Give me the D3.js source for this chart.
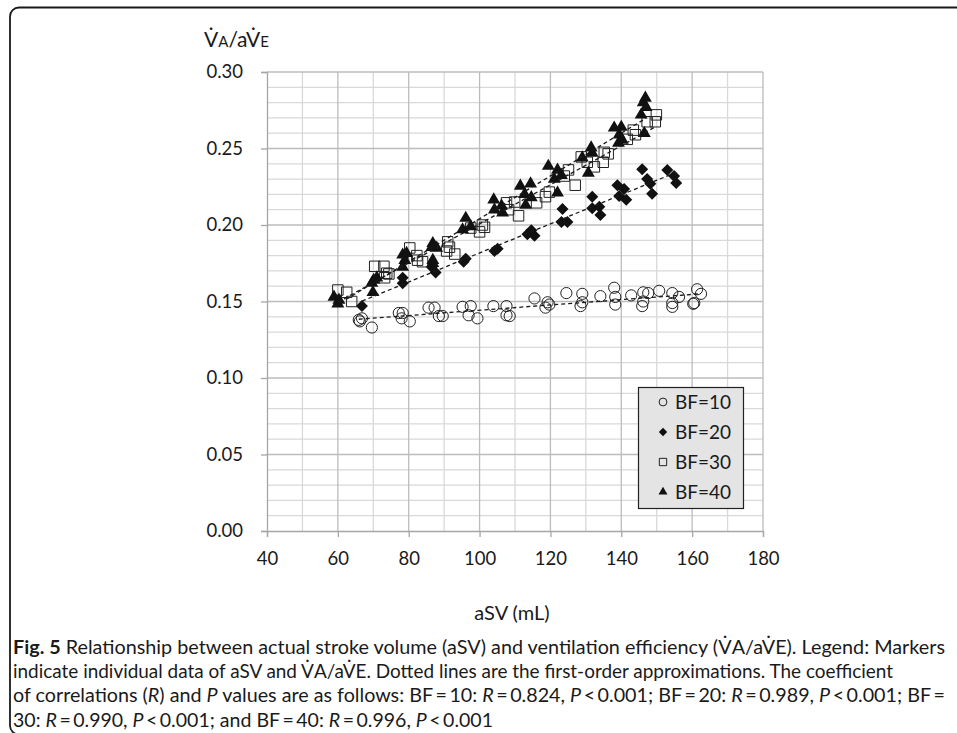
<!DOCTYPE html>
<html><head><meta charset="utf-8">
<script src="https://cdn.jsdelivr.net/npm/d3@7"></script>
<style>body{margin:0;background:#fff}svg{display:block}</style>
</head><body>
<script>
const bf10 = [[65.9,0.138],[66.2,0.137],[66.8,0.139],[69.6,0.133],[77.2,0.1425],[78.3,0.1425],[78.0,0.139],[80.3,0.137],[85.6,0.146],[87.3,0.146],[88.5,0.1405],[89.6,0.1405],[95.2,0.1465],[97.5,0.147],[96.9,0.141],[99.4,0.139],[103.9,0.147],[107.6,0.147],[107.6,0.141],[108.5,0.1405],[115.5,0.152],[119.2,0.1495],[118.6,0.146],[119.7,0.148],[124.5,0.1555],[129.0,0.155],[129.0,0.1495],[128.5,0.147],[134.1,0.1535],[138.0,0.159],[138.3,0.153],[138.3,0.148],[142.8,0.154],[146.2,0.156],[147.6,0.1555],[146.2,0.150],[145.9,0.147],[150.7,0.157],[154.4,0.1555],[156.3,0.153],[154.4,0.149],[154.4,0.1465],[161.4,0.158],[162.5,0.155],[160.6,0.149],[160.3,0.1485]];
const bf20 = [[66.8,0.147],[78.3,0.162],[78.3,0.1655],[86.5,0.1725],[87.6,0.169],[96.1,0.178],[95.5,0.176],[104.2,0.183],[105.1,0.1845],[113.5,0.194],[114.6,0.1965],[115.5,0.193],[123.4,0.2105],[123.1,0.202],[124.8,0.202],[131.8,0.2185],[131.8,0.211],[133.8,0.212],[134.1,0.2065],[138.9,0.226],[140.8,0.2235],[139.4,0.219],[141.4,0.2165],[145.9,0.2365],[147.3,0.230],[148.2,0.227],[148.7,0.2205],[153.0,0.236],[154.9,0.232],[155.5,0.2275]];
const bf30 = [[60.0,0.1575],[62.5,0.156],[63.9,0.150],[70.4,0.173],[73.0,0.173],[73.8,0.1685],[73.2,0.1655],[74.4,0.168],[80.3,0.185],[82.3,0.180],[82.5,0.177],[83.9,0.176],[91.0,0.189],[91.5,0.1855],[90.7,0.183],[93.0,0.181],[100.0,0.1955],[100.8,0.200],[101.4,0.1985],[97.5,0.198],[107.6,0.2145],[109.9,0.215],[108.2,0.210],[111.0,0.206],[116.1,0.2145],[118.6,0.2185],[119.7,0.2215],[125.1,0.236],[123.9,0.232],[127.0,0.226],[128.7,0.2445],[130.4,0.241],[132.4,0.238],[134.9,0.241],[135.2,0.2475],[136.3,0.2465],[141.7,0.256],[143.4,0.262],[144.0,0.259],[147.3,0.2675],[149.6,0.2675],[149.9,0.272]];
const bf40 = [[58.9,0.153],[60.0,0.1485],[60.3,0.151],[69.6,0.162],[69.9,0.156],[70.1,0.164],[71.0,0.1655],[78.3,0.1805],[78.9,0.177],[78.3,0.1725],[79.4,0.1815],[86.8,0.188],[86.5,0.1855],[87.9,0.185],[86.8,0.177],[86.8,0.175],[95.2,0.197],[96.1,0.2045],[97.5,0.199],[104.0,0.2165],[106.2,0.2125],[104.2,0.210],[106.5,0.208],[111.5,0.2255],[114.4,0.227],[112.7,0.220],[114.6,0.218],[113.0,0.213],[119.4,0.2385],[122.0,0.236],[123.1,0.2325],[121.1,0.230],[122.0,0.221],[129.0,0.244],[131.5,0.2505],[131.8,0.247],[130.7,0.234],[138.0,0.2635],[140.0,0.264],[139.4,0.259],[139.2,0.2535],[140.3,0.2555],[146.8,0.283],[146.2,0.280],[147.0,0.277],[145.6,0.272],[146.5,0.260]];
const seriesNames = ["BF=10","BF=20","BF=30","BF=40"];
const xTicks = [40,60,80,100,120,140,160,180];
const yTicks = [0.00,0.05,0.10,0.15,0.20,0.25,0.30];
const xTitle = "aSV (mL)";
const captionLines = [
  [["Fig. 5","b"],[" Relationship between actual stroke volume (aSV) and ventilation efficiency (V\u0307A/aV\u0307E). Legend: Markers",""]],
  [["indicate individual data of aSV and V\u0307A/aV\u0307E. Dotted lines are the first-order approximations. The coefficient",""]],
  [["of correlations (",""],["R","i"],[") and ",""],["P","i"],[" values are as follows: BF\u2009=\u200910: ",""],["R","i"],["\u2009=\u20090.824, ",""],["P","i"],["\u2009<\u20090.001; BF\u2009=\u200920: ",""],["R","i"],["\u2009=\u20090.989, ",""],["P","i"],["\u2009<\u20090.001; BF\u2009=",""]],
  [["30: ",""],["R","i"],["\u2009=\u20090.990, ",""],["P","i"],["\u2009<\u20090.001; and BF\u2009=\u200940: ",""],["R","i"],["\u2009=\u20090.996, ",""],["P","i"],["\u2009<\u20090.001",""]]
];

const W = 957, H = 733;
const FONT = "Lato, 'Open Sans', sans-serif";
const svg = d3.select("body").append("svg").attr("width", W).attr("height", H);

// frame
svg.append("rect").attr("x",10).attr("y",7.5).attr("width",1000).attr("height",727)
  .attr("rx",9).attr("fill","none").attr("stroke","#1a1a1a").attr("stroke-width",1.8);

const x = d3.scaleLinear().domain([40,180]).range([267,763]);
const y = d3.scaleLinear().domain([0,0.30]).range([531,72]);

const g = svg.append("g");
// minor grid
const xMinor = d3.range(50,180,20);
const yMinor = d3.range(1,30).filter(i => i % 5 !== 0).map(i => i/100);
g.selectAll(".xm").data(xMinor).join("line").attr("x1",d=>x(d)).attr("x2",d=>x(d)).attr("y1",y(0)).attr("y2",y(0.30)).attr("stroke","#d9d9d9").attr("stroke-width",1.3);
g.selectAll(".ym").data(yMinor).join("line").attr("x1",x(40)).attr("x2",x(180)).attr("y1",d=>y(d)).attr("y2",d=>y(d)).attr("stroke","#d9d9d9").attr("stroke-width",1.3);
// major grid
g.selectAll(".xM").data(xTicks.slice(1)).join("line").attr("x1",d=>x(d)).attr("x2",d=>x(d)).attr("y1",y(0)).attr("y2",y(0.30)).attr("stroke","#bcbcbc").attr("stroke-width",1.3);
g.selectAll(".yM").data(yTicks.slice(1)).join("line").attr("x1",x(40)).attr("x2",x(180)).attr("y1",d=>y(d)).attr("y2",d=>y(d)).attr("stroke","#bcbcbc").attr("stroke-width",1.3);

// axes
const xAxis = d3.axisBottom(x).tickValues(xTicks).tickFormat(d3.format("d")).tickSize(6).tickPadding(15);
const yAxis = d3.axisLeft(y).tickValues(yTicks).tickFormat(d3.format(".2f")).tickSize(6).tickPadding(18);
const gx = svg.append("g").attr("transform",`translate(0,${y(0)})`).call(xAxis);
const gy = svg.append("g").attr("transform",`translate(${x(40)},0)`).call(yAxis);
[gx,gy].forEach(a => {
  a.select(".domain").attr("stroke","#a6a6a6").attr("stroke-width",1.3);
  a.selectAll(".tick line").attr("stroke","#a6a6a6").attr("stroke-width",1.3);
  a.selectAll("text").attr("font-family",FONT).attr("font-size",18.5).attr("fill","#1a1a1a");
});

// y title
const yt = svg.append("text").attr("x",204).attr("y",47).attr("font-family",FONT).attr("fill","#1a1a1a").attr("font-size",21);
yt.append("tspan").text("V\u0307");
yt.append("tspan").attr("font-size",15).text("A");
yt.append("tspan").text("/aV\u0307");
yt.append("tspan").attr("font-size",15).text("E");

// x title
svg.append("text").attr("x",512).attr("y",620).attr("text-anchor","middle").attr("font-family",FONT)
  .attr("font-size",20).attr("fill","#1a1a1a").text(xTitle);

// trend lines
const all = [bf10,bf20,bf30,bf40];
function fit(pts){
  const mx = d3.mean(pts,p=>p[0]), my = d3.mean(pts,p=>p[1]);
  let sxy=0,sxx=0; pts.forEach(p=>{sxy+=(p[0]-mx)*(p[1]-my); sxx+=(p[0]-mx)**2;});
  const b = sxy/sxx, a = my - b*mx;
  const [x0,x1] = d3.extent(pts,p=>p[0]);
  return [[x0,a+b*x0],[x1,a+b*x1]];
}

// symbols
const sym = {
  "BF=10": (sel,s) => sel.append("circle").attr("r",5.6*s).attr("fill","none").attr("stroke","#222").attr("stroke-width",1),
  "BF=20": (sel,s) => sel.append("path").attr("d",d3.symbol(d3.symbolSquare, 72*s*s)()).attr("transform","rotate(45)").attr("fill","#111"),
  "BF=30": (sel,s) => sel.append("path").attr("d",d3.symbol(d3.symbolSquare, 110*s*s)()).attr("fill","none").attr("stroke","#222").attr("stroke-width",1),
  "BF=40": (sel,s) => sel.append("path").attr("d",d3.symbol(d3.symbolTriangle, 72*s*s)()).attr("fill","#111")
};

all.forEach((pts,i) => {
  const gs = svg.append("g");
  pts.forEach(p => {
    const m = gs.append("g").attr("transform",`translate(${x(p[0])},${y(p[1])})`);
    sym[seriesNames[i]](m,1);
  });
});
const line = d3.line().x(d=>x(d[0])).y(d=>y(d[1]));
all.forEach(pts => {
  svg.append("path").attr("d",line(fit(pts))).attr("fill","none").attr("stroke","#1a1a1a")
    .attr("stroke-width",1.3).attr("stroke-dasharray","4,3");
});

// legend
const lg = svg.append("g");
lg.append("rect").attr("x",638.5).attr("y",387.5).attr("width",105).attr("height",121)
  .attr("fill","#e4e4e4").attr("stroke","#222").attr("stroke-width",1.2);
seriesNames.forEach((nm,i) => {
  const cy = 402 + i*30;
  const m = lg.append("g").attr("transform",`translate(663,${cy})`);
  sym[nm](m,0.7);
  lg.append("text").attr("x",675).attr("y",cy).attr("dy","0.36em").attr("font-family",FONT)
    .attr("font-size",19).attr("fill","#1a1a1a").text(nm);
});

// caption
const capBase = [654,678,702,727];
const capLen = [932, 880, 932, 480];
captionLines.forEach((parts,i) => {
  const t = svg.append("text").attr("x",13).attr("y",capBase[i]).attr("font-family",FONT)
    .attr("font-size",19.5).attr("fill","#1a1a1a")
    .attr("textLength",capLen[i]).attr("lengthAdjust","spacingAndGlyphs");
  parts.forEach(([s,st]) => {
    const ts = t.append("tspan").text(s);
    if (st==="b") ts.attr("font-weight","bold");
    if (st==="i") ts.attr("font-style","italic");
  });
});
</script>
</body></html>
